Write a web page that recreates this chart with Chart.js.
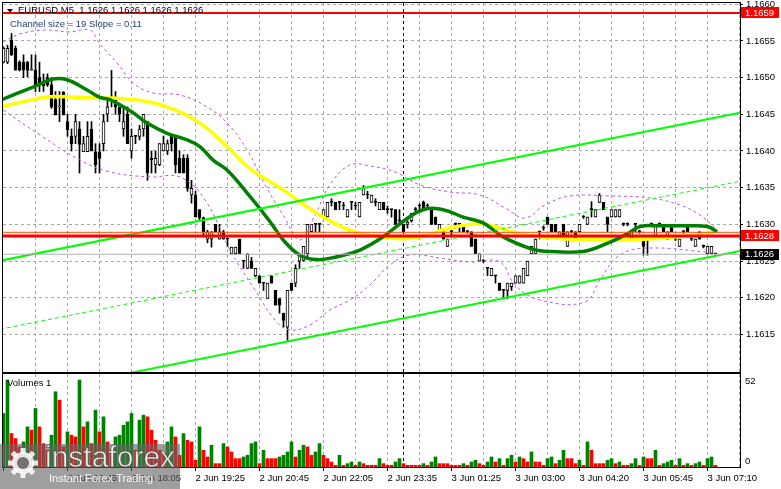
<!DOCTYPE html>
<html>
<head>
<meta charset="utf-8">
<title>EURUSD,M5</title>
<script src="https://cdn.jsdelivr.net/npm/chart.js@4.4.1/dist/chart.umd.min.js"></script>
<style>
html,body{margin:0;padding:0;background:#fff;}
#wrap{position:relative;width:781px;height:489px;overflow:hidden;background:#fff;}
#priceChart{position:absolute;left:0;top:0;}
#volChart{position:absolute;left:0;top:372px;}
</style>
</head>
<body>
<div id="wrap">
<canvas id="priceChart" width="781" height="374"></canvas>
<canvas id="volChart" width="781" height="117"></canvas>
</div>
<script>
// M5 candles, one per bar index (0 = 2 Jun 2026 15:25)
var opens = [
1.16521,1.16521,1.16551,1.16540,1.16521,1.16521,1.16521,1.16510,1.16510,1.16500,
1.16495,1.16500,1.16490,1.16470,1.16460,1.16480,1.16440,1.16420,1.16420,1.16430,
1.16399,1.16399,1.16430,1.16399,1.16399,1.16410,1.16450,1.16471,1.16471,1.16460,
1.16430,1.16450,1.16400,1.16420,1.16420,1.16430,1.16440,1.16390,1.16381,1.16381,
1.16400,1.16400,1.16420,1.16420,1.16390,1.16390,1.16390,1.16340,1.16340,1.16320,
1.16309,1.16280,1.16280,1.16300,1.16280,1.16290,1.16280,1.16260,1.16260,1.16280,
1.16250,1.16240,1.16250,1.16230,1.16230,1.16220,1.16199,1.16230,1.16210,1.16199,
1.16179,1.16160,1.16220,1.16220,1.16250,1.16251,1.16260,1.16290,1.16300,1.16300,
1.16310,1.16310,1.16330,1.16330,1.16330,1.16325,1.16310,1.16330,1.16325,1.16310,
1.16340,1.16340,1.16330,1.16330,1.16320,1.16330,1.16320,1.16320,1.16320,1.16305,
1.16300,1.16300,1.16305,1.16320,1.16325,1.16330,1.16325,1.16320,1.16310,1.16290,
1.16290,1.16270,1.16290,1.16300,1.16300,1.16300,1.16290,1.16290,1.16280,1.16250,
1.16250,1.16240,1.16230,1.16230,1.16220,1.16210,1.16210,1.16215,1.16220,1.16220,
1.16220,1.16230,1.16260,1.16260,1.16290,1.16295,1.16310,1.16300,1.16300,1.16280,
1.16300,1.16270,1.16290,1.16290,1.16290,1.16310,1.16300,1.16320,1.16310,1.16330,
1.16330,1.16310,1.16310,1.16310,1.16310,1.16300,1.16300,1.16280,1.16300,1.16290,
1.16280,1.16280,1.16300,1.16280,1.16300,1.16300,1.16280,1.16300,1.16280,1.16270,
1.16290,1.16300,1.16280,1.16270,1.16290,1.16270,1.16260,1.16260,1.16260];
var highs = [
1.16542,1.16544,1.16560,1.16543,1.16523,1.16531,1.16522,1.16531,1.16531,1.16521,
1.16505,1.16505,1.16500,1.16481,1.16481,1.16481,1.16450,1.16430,1.16450,1.16440,
1.16420,1.16440,1.16440,1.16410,1.16410,1.16450,1.16470,1.16510,1.16481,1.16460,
1.16460,1.16460,1.16430,1.16420,1.16435,1.16450,1.16440,1.16400,1.16400,1.16410,
1.16420,1.16415,1.16420,1.16420,1.16400,1.16395,1.16395,1.16360,1.16345,1.16320,
1.16310,1.16292,1.16290,1.16300,1.16300,1.16292,1.16280,1.16269,1.16269,1.16280,
1.16250,1.16260,1.16255,1.16240,1.16230,1.16220,1.16220,1.16230,1.16210,1.16199,
1.16179,1.16210,1.16220,1.16245,1.16260,1.16270,1.16300,1.16300,1.16300,1.16300,
1.16320,1.16330,1.16335,1.16330,1.16330,1.16330,1.16320,1.16330,1.16330,1.16330,
1.16353,1.16345,1.16340,1.16335,1.16330,1.16330,1.16325,1.16320,1.16320,1.16320,
1.16300,1.16305,1.16315,1.16323,1.16328,1.16332,1.16328,1.16320,1.16310,1.16300,
1.16290,1.16280,1.16292,1.16302,1.16300,1.16300,1.16292,1.16290,1.16280,1.16260,
1.16252,1.16240,1.16240,1.16230,1.16220,1.16210,1.16220,1.16220,1.16230,1.16230,
1.16240,1.16250,1.16270,1.16280,1.16290,1.16298,1.16310,1.16300,1.16300,1.16290,
1.16300,1.16290,1.16292,1.16290,1.16300,1.16312,1.16310,1.16331,1.16320,1.16342,
1.16330,1.16310,1.16320,1.16320,1.16320,1.16302,1.16302,1.16290,1.16300,1.16292,
1.16280,1.16280,1.16302,1.16300,1.16302,1.16300,1.16290,1.16300,1.16282,1.16280,
1.16292,1.16300,1.16282,1.16280,1.16290,1.16272,1.16270,1.16270,1.16260];
var lows = [
1.16520,1.16519,1.16530,1.16510,1.16509,1.16500,1.16501,1.16510,1.16481,1.16481,
1.16481,1.16488,1.16458,1.16449,1.16440,1.16449,1.16420,1.16400,1.16410,1.16370,
1.16399,1.16399,1.16400,1.16370,1.16370,1.16400,1.16440,1.16460,1.16450,1.16440,
1.16420,1.16410,1.16390,1.16410,1.16415,1.16420,1.16360,1.16370,1.16370,1.16380,
1.16400,1.16395,1.16400,1.16370,1.16370,1.16370,1.16345,1.16329,1.16310,1.16305,
1.16285,1.16275,1.16269,1.16290,1.16280,1.16280,1.16270,1.16260,1.16259,1.16260,
1.16240,1.16240,1.16240,1.16229,1.16220,1.16210,1.16199,1.16220,1.16190,1.16179,
1.16160,1.16142,1.16210,1.16215,1.16240,1.16250,1.16255,1.16290,1.16290,1.16290,
1.16310,1.16310,1.16325,1.16320,1.16320,1.16320,1.16310,1.16320,1.16320,1.16310,
1.16340,1.16335,1.16330,1.16325,1.16320,1.16320,1.16315,1.16310,1.16300,1.16300,
1.16290,1.16295,1.16303,1.16318,1.16320,1.16320,1.16322,1.16300,1.16300,1.16290,
1.16280,1.16270,1.16285,1.16295,1.16290,1.16290,1.16288,1.16270,1.16260,1.16250,
1.16248,1.16230,1.16230,1.16220,1.16210,1.16200,1.16199,1.16210,1.16220,1.16220,
1.16220,1.16230,1.16260,1.16260,1.16280,1.16292,1.16300,1.16290,1.16290,1.16280,
1.16280,1.16270,1.16288,1.16280,1.16290,1.16308,1.16300,1.16310,1.16310,1.16330,
1.16320,1.16290,1.16310,1.16310,1.16310,1.16298,1.16298,1.16280,1.16290,1.16288,
1.16258,1.16258,1.16298,1.16280,1.16298,1.16290,1.16280,1.16290,1.16278,1.16270,
1.16288,1.16290,1.16278,1.16270,1.16280,1.16268,1.16260,1.16260,1.16260];
var closes = [
1.16540,1.16540,1.16531,1.16510,1.16510,1.16510,1.16510,1.16511,1.16490,1.16490,
1.16489,1.16490,1.16460,1.16449,1.16461,1.16449,1.16429,1.16410,1.16440,1.16409,
1.16410,1.16420,1.16400,1.16381,1.16390,1.16440,1.16460,1.16471,1.16460,1.16450,
1.16440,1.16410,1.16420,1.16420,1.16430,1.16450,1.16370,1.16388,1.16390,1.16410,
1.16410,1.16410,1.16410,1.16381,1.16370,1.16370,1.16349,1.16349,1.16310,1.16309,
1.16290,1.16290,1.16290,1.16290,1.16290,1.16280,1.16280,1.16269,1.16269,1.16260,
1.16250,1.16260,1.16240,1.16240,1.16220,1.16220,1.16220,1.16220,1.16190,1.16190,
1.16169,1.16210,1.16210,1.16240,1.16260,1.16270,1.16300,1.16300,1.16300,1.16300,
1.16320,1.16330,1.16330,1.16320,1.16330,1.16325,1.16320,1.16330,1.16325,1.16330,
1.16350,1.16340,1.16340,1.16330,1.16330,1.16320,1.16320,1.16320,1.16300,1.16305,
1.16290,1.16303,1.16315,1.16320,1.16325,1.16320,1.16325,1.16300,1.16300,1.16300,
1.16280,1.16280,1.16290,1.16300,1.16300,1.16290,1.16290,1.16270,1.16260,1.16260,
1.16250,1.16240,1.16240,1.16230,1.16210,1.16210,1.16220,1.16220,1.16230,1.16230,
1.16240,1.16250,1.16270,1.16280,1.16290,1.16295,1.16300,1.16290,1.16290,1.16290,
1.16280,1.16290,1.16290,1.16280,1.16300,1.16310,1.16310,1.16320,1.16320,1.16340,
1.16320,1.16300,1.16320,1.16320,1.16320,1.16300,1.16300,1.16290,1.16300,1.16290,
1.16270,1.16280,1.16300,1.16300,1.16300,1.16290,1.16290,1.16290,1.16280,1.16280,
1.16290,1.16290,1.16280,1.16280,1.16280,1.16270,1.16270,1.16270,1.16260];
var volumes = [
32,52,20,17,12,15,24,22,35,24, 14,10,19,45,40,12,21,19,18,52,
24,27,14,34,21,30,15,10,18,19, 25,27,32,10,28,31,30,22,16,10,
8,15,24,18,7,20,16,15,4,24, 10,6,13,2,2,14,12,9,5,5,
6,7,14,15,2,10,5,5,5,6, 7,9,15,6,10,13,12,7,9,14,
7,5,3,1,7,1,2,3,1,3, 2,1,1,1,5,2,1,1,3,5,
2,1,1,1,1,2,1,3,6,2, 2,2,1,1,1,2,1,3,4,2,
1,3,6,3,5,1,5,7,3,6, 5,3,9,3,3,1,5,6,2,4,
10,5,5,2,4,1,15,10,2,2, 2,4,5,2,3,1,1,2,5,1,
6,5,5,10,1,2,3,4,1,5, 1,2,1,2,3,1,5,6,1];

// indicator readings: [bar index, price]
var greenMA = [[-0.9,1.16469],[7.4,1.16487],[12.4,1.16498],[15.9,1.16497],[20.9,1.16483],[24.1,1.16473],[26.6,1.16470],
  [32.4,1.16452],[35.9,1.16438],[40.9,1.16424],[45.9,1.16415],[49.1,1.16406],[52.4,1.163875],[55.9,1.16374],
  [61.6,1.16338],[66.6,1.16304],[69.9,1.16279],[74.1,1.16258],[78.4,1.16252],[83.4,1.16256],[89.1,1.16265],
  [94.9,1.16283],[99.9,1.16304],[104.9,1.16320],[109.9,1.16320],[114.9,1.16310],[119.9,1.16302],[124.9,1.16283],
  [132.4,1.16266],[137.4,1.16263],[144.9,1.16263],[150.9,1.16274],[155.9,1.16287],[159.1,1.16297],[164.1,1.16298],
  [170.9,1.16298],[175.9,1.16297],[178.4,1.16290]];
var yellowMA = [[-0.9,1.16460],[7.4,1.16470],[11.6,1.16474],[19.9,1.16473],[32.4,1.16470],[40.9,1.16460],[49.1,1.16438],
  [55.9,1.16406],[61.6,1.16376],[69.9,1.16347],[78.4,1.16315],[86.6,1.16292],[94.9,1.16282],[103.4,1.16282],
  [111.6,1.16295],[119.1,1.16301],[124.1,1.16295],[129.1,1.16287],[134.1,1.16283],[140.9,1.16280],[149.1,1.16279],
  [157.4,1.16279],[165.9,1.16282],[174.1,1.16286],[177.9,1.16290]];
var upperBand = [[-0.1,1.165485],[4.1,1.165594],[10.4,1.165648],[16.6,1.165621],[21.6,1.165648],[24.1,1.165458],
  [28.4,1.165199],[32.4,1.164926],[37.4,1.16479],[44.1,1.164763],[50.9,1.164599],[55.9,1.164381],[60.9,1.164014],
  [65.4,1.163537],[69.9,1.163128],[74.1,1.162788],[77.9,1.163128],[81.6,1.163537],[86.6,1.163809],[91.6,1.163796],
  [97.9,1.163714],[104.1,1.163537],[111.6,1.163441],[119.1,1.163401],[125.4,1.163223],[130.4,1.163087],[135.4,1.163264],
  [141.6,1.163387],[151.6,1.163387],[161.6,1.16336],[169.1,1.163264],[174.1,1.163128],[177.9,1.162951]];
var lowerBand = [[-0.1,1.164559],[9.1,1.164218],[19.1,1.163877],[26.6,1.163714],[36.6,1.163646],[44.1,1.163646],
  [50.4,1.163332],[56.6,1.162651],[62.9,1.162106],[67.9,1.161697],[71.6,1.161561],[76.6,1.161629],[81.6,1.161834],
  [86.6,1.16197],[91.6,1.162174],[96.6,1.162447],[101.6,1.162583],[109.1,1.162542],[116.6,1.162488],[124.1,1.162488],
  [127.9,1.162174],[134.1,1.16197],[145.4,1.161943],[149.1,1.162243],[154.1,1.162583],[161.6,1.162678],[177.9,1.16261]];
var channelTop = [[-0.875,1.162505],[184.1,1.164522]];
var channelMid = [[-0.875,1.161571],[184.1,1.163587]];
var channelLow = [[-0.875,1.160621],[184.1,1.162638]];

var timeLabels = ['2 Jun 2026','2 Jun 16:45','2 Jun 18:05','2 Jun 19:25','2 Jun 20:45','2 Jun 22:05',
  '2 Jun 23:35','3 Jun 01:25','3 Jun 03:00','3 Jun 04:20','3 Jun 05:45','3 Jun 07:10'];
var gridBars = [8,16,24,32,40,48,56,64,72,80,88,96,104,112,120,128,136,144,152,160,168,176,184];
var gridPrices = [1.1615,1.1620,1.1625,1.1630,1.1635,1.1640,1.1645,1.1650,1.1655,1.1660];
var volTicks = [52, 0];
var dayBreak = 100;
var priceTags = [
  {value: 1.16588, text: '1.1659', bg: '#ff0000'},
  {value: 1.162842, text: '1.1628', bg: '#ff0000'},
  {value: 1.162593, text: '1.1626', bg: '#000000'}
];
var titleText = 'EURUSD,M5  1.1626 1.1626 1.1626 1.1626';
var channelText = 'Channel size = 19 Slope = 0.11';

var xMin = -0.125, xMax = 184.125;
var gridColor = '#a8a8a8';
var fontFam = '"Liberation Sans", Arial, sans-serif';
Chart.defaults.font.family = fontFam;
Chart.defaults.font.size = 9.5;
Chart.defaults.color = '#000';

function lineSet(points, color, width, dash, order, tension){
	return {
		type: 'line',
		data: points.map(function(p){ return {x: p[0], y: p[1]}; }),
		borderColor: color,
		borderWidth: width,
		borderDash: dash || [],
		pointRadius: 0,
		fill: false,
		tension: tension || 0,
		order: order
	};
}
function levelSet(price, color, width, order){
	return lineSet([[xMin - 1, price], [xMax + 1, price]], color, width, [], order, 0);
}

var wickData = closes.map(function(c, i){ return {x: i, y: [lows[i], highs[i]]}; });
var bodyData = closes.map(function(c, i){ return {x: i, y: [Math.min(opens[i], c), Math.max(opens[i], c)]}; });
var bodyFill = closes.map(function(c, i){ return c > opens[i] ? '#ffffff' : '#000000'; });

// dashed line as a run of 1px dashes
function dashV(ctx, x, y1, y2){
	for (var y = y1; y < y2; y += 6) ctx.fillRect(x, y, 1, Math.min(3, y2 - y));
}
function dashH(ctx, y, x1, x2){
	for (var x = x1; x < x2; x += 6) ctx.fillRect(x, y, Math.min(3, x2 - x), 1);
}

function drawGrid(chart, withY, tickEvery){
	var ctx = chart.ctx, a = chart.chartArea, xs = chart.scales.x, ys = chart.scales.y;
	ctx.save();
	ctx.fillStyle = gridColor;
	gridBars.forEach(function(b){
		var x = Math.floor(xs.getPixelForValue(b));
		if (x < a.left + 2 || x > a.right - 1) return;
		dashV(ctx, x, a.top, a.bottom);
	});
	if (withY){
		gridPrices.forEach(function(p){
			var y = Math.floor(ys.getPixelForValue(p));
			if (y < a.top || y > a.bottom) return;
			dashH(ctx, y, a.left, a.right);
		});
	}
	ctx.fillStyle = '#000';
	dashV(ctx, Math.floor(xs.getPixelForValue(dayBreak)), a.top, a.bottom);
	if (withY){
		gridPrices.forEach(function(p){
			ctx.fillRect(a.right, Math.floor(ys.getPixelForValue(p)), 3, 1);
		});
	}
	if (tickEvery){
		gridBars.concat([0]).forEach(function(b){
			if (b % tickEvery !== 0) return;
			ctx.fillRect(Math.floor(xs.getPixelForValue(b)), a.bottom, 1, 4);
		});
	}
	ctx.restore();
}
function frameBox(chart){
	var a = chart.chartArea, ctx = chart.ctx;
	ctx.save();
	ctx.strokeStyle = '#000';
	ctx.lineWidth = 1;
	ctx.strokeRect(a.left - 0.5, a.top - 0.5, a.right - a.left + 1, a.bottom - a.top + 1);
	ctx.restore();
}

var pricePlugin = {
	id: 'pricePlugin',
	beforeDatasetsDraw: function(chart){ drawGrid(chart, true, 0); },
	afterDraw: function(chart){
		var ctx = chart.ctx, a = chart.chartArea, ys = chart.scales.y;
		frameBox(chart);
		ctx.save();
		ctx.font = '9.5px ' + fontFam;
		ctx.textBaseline = 'middle';
		priceTags.forEach(function(t){
			var y = ys.getPixelForValue(t.value);
			ctx.fillStyle = t.bg;
			ctx.fillRect(a.right + 1, Math.round(y - 5.5), 38, 11);
			ctx.fillStyle = '#fff';
			ctx.fillText(t.text, a.right + 5, y + 0.5);
		});
		ctx.fillStyle = '#000';
		ctx.beginPath();
		ctx.moveTo(7, 9); ctx.lineTo(13, 9); ctx.lineTo(10, 12.5); ctx.closePath();
		ctx.fill();
		ctx.fillText(titleText, 18, 10.5);
		ctx.fillStyle = '#22407a';
		ctx.fillText(channelText, 10, 24);
		ctx.restore();
	}
};

function drawLogo(ctx, top){
	ctx.save();
	ctx.fillStyle = 'rgba(100,100,100,0.62)';
	ctx.fillRect(0, top, 180, 45);
	// gear mark
	var cx = 23, cy = top + 19;
	ctx.fillStyle = 'rgba(255,255,255,0.85)';
	for (var k = 0; k < 8; k++){
		ctx.save();
		ctx.translate(cx, cy);
		ctx.rotate(k * Math.PI / 4);
		ctx.fillRect(-2.5, -15, 5, 6);
		ctx.restore();
	}
	ctx.beginPath();
	ctx.arc(cx, cy, 11, 0, Math.PI * 2);
	ctx.fill();
	ctx.fillStyle = 'rgba(100,100,100,0.9)';
	ctx.beginPath();
	ctx.arc(cx, cy, 6, 0, Math.PI * 2);
	ctx.fill();
	ctx.fillStyle = 'rgba(255,255,255,0.9)';
	ctx.strokeStyle = 'rgba(60,60,60,0.6)';
	ctx.lineWidth = 1;
	ctx.textBaseline = 'alphabetic';
	ctx.font = '30px ' + fontFam;
	ctx.fillText('instaforex', 45, top + 23);
	ctx.strokeText('instaforex', 45, top + 23);
	ctx.font = '11px ' + fontFam;
	ctx.fillText('Instant Forex Trading', 49, top + 38);
	ctx.restore();
}

var volPlugin = {
	id: 'volPlugin',
	beforeDatasetsDraw: function(chart){ drawGrid(chart, false, 16); },
	afterDraw: function(chart){
		var ctx = chart.ctx, a = chart.chartArea, ys = chart.scales.y;
		frameBox(chart);
		ctx.save();
		ctx.font = '9.5px ' + fontFam;
		ctx.textBaseline = 'middle';
		ctx.fillStyle = '#000';
		ctx.fillText('Volumes 1', 7, a.top + 9.5);
		ctx.fillText(String(volTicks[0]), a.right + 5, ys.getPixelForValue(volTicks[0]) + 1.5);
		ctx.fillText(String(volTicks[1]), a.right + 5, ys.getPixelForValue(volTicks[1]) - 6);
		ctx.restore();
		drawLogo(ctx, 72);
	}
};

new Chart(document.getElementById('priceChart'), {
	type: 'bar',
	data: {
		datasets: [
			{type: 'bar', data: wickData, backgroundColor: '#000', barThickness: 1, grouped: false, order: 20},
			{type: 'bar', data: bodyData, backgroundColor: bodyFill, borderColor: '#000', borderWidth: 1,
				borderSkipped: false, barThickness: 3, minBarLength: 1, grouped: false, order: 19},
			lineSet(upperBand, '#bb55dd', 1, [3, 3], 18, 0.4),
			lineSet(lowerBand, '#bb55dd', 1, [3, 3], 18, 0.4),
			lineSet(yellowMA, '#ffff00', 3.5, [], 17, 0.4),
			lineSet(greenMA, '#008000', 3.5, [], 16, 0.4),
			lineSet(channelMid, '#00ff00', 1, [4, 3], 15, 0),
			lineSet(channelTop, '#00ff00', 2, [], 14, 0),
			lineSet(channelLow, '#00ff00', 2, [], 14, 0),
			levelSet(priceTags[2].value, '#b0b0b0', 1, 13),
			levelSet(1.162892, '#ff5000', 1, 12),
			levelSet(priceTags[1].value, '#ff0000', 3, 11),
			levelSet(priceTags[0].value, '#ff0000', 2, 11)
		]
	},
	options: {
		responsive: false,
		animation: false,
		devicePixelRatio: 1,
		events: [],
		layout: {padding: {left: 3, top: 3, right: 0, bottom: 2}},
		plugins: {legend: {display: false}, tooltip: {enabled: false}},
		scales: {
			x: {
				type: 'linear', min: xMin, max: xMax, offset: false,
				ticks: {display: false, stepSize: 8},
				grid: {display: false, drawTicks: false, offset: false},
				border: {display: false},
				afterFit: function(s){ s.height = 0; s.paddingLeft = 0; s.paddingRight = 0; }
			},
			y: {
				type: 'linear', position: 'right', min: 1.160989, max: 1.166016,
				ticks: {stepSize: 0.0005, includeBounds: false, padding: 6,
					callback: function(v){ return v < 1.1612 ? '' : v.toFixed(4); }},
				grid: {display: false, drawTicks: false},
				border: {display: false},
				afterFit: function(s){ s.width = 41; s.paddingTop = 0; s.paddingBottom = 0; }
			}
		}
	},
	plugins: [pricePlugin]
});

new Chart(document.getElementById('volChart'), {
	type: 'bar',
	data: {
		datasets: [{
			data: volumes.map(function(v, i){ return {x: i, y: v}; }),
			backgroundColor: volumes.map(function(v, i){ return (i === 0 || v > volumes[i - 1]) ? '#008000' : '#ff0000'; }),
			barThickness: 3,
			grouped: false
		}]
	},
	options: {
		responsive: false,
		animation: false,
		devicePixelRatio: 1,
		events: [],
		layout: {padding: {left: 3, top: 2, right: 0, bottom: 0}},
		plugins: {legend: {display: false}, tooltip: {enabled: false}},
		scales: {
			x: {
				type: 'linear', min: xMin, max: xMax, offset: false,
				ticks: {stepSize: 8, autoSkip: false, maxRotation: 0, align: 'start', padding: 6,
					callback: function(v){ return v % 16 === 0 && timeLabels[v / 16] ? timeLabels[v / 16] : ''; }},
				grid: {display: false, drawTicks: false, offset: false},
				border: {display: false},
				afterFit: function(s){ s.height = 22; s.paddingLeft = 0; s.paddingRight = 0; }
			},
			y: {
				type: 'linear', position: 'right', min: 0, max: 55.6,
				ticks: {display: false},
				grid: {display: false, drawTicks: false},
				border: {display: false},
				afterFit: function(s){ s.width = 41; s.paddingTop = 0; s.paddingBottom = 0; }
			}
		}
	},
	plugins: [volPlugin]
});
</script>
</body>
</html>
